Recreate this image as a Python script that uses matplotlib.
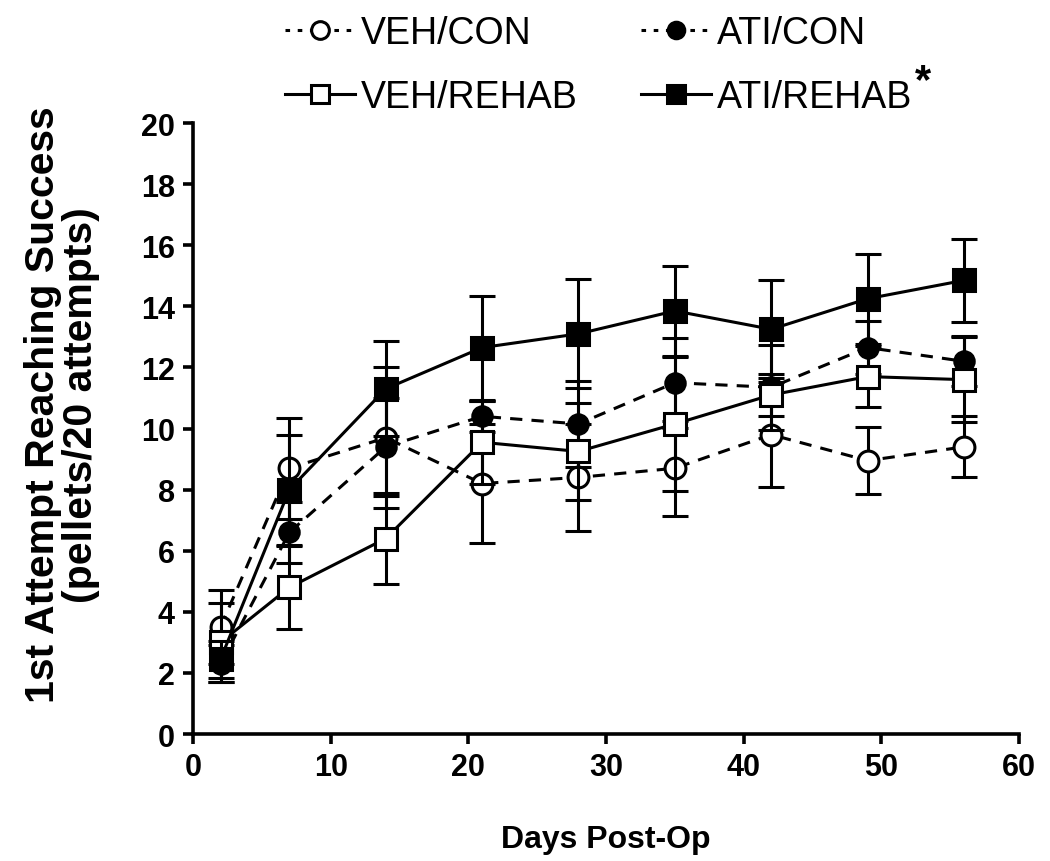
import matplotlib
matplotlib.use("Agg")
import matplotlib.pyplot as plt
from matplotlib.lines import Line2D

days = [2, 7, 14, 21, 28, 35, 42, 49, 56]

veh_con = [3.5, 8.7, 9.7, 8.2, 8.4, 8.7, 9.8, 8.95, 9.4]
veh_con_err = [1.2, 1.65, 2.3, 1.95, 1.75, 1.55, 1.72, 1.1, 1.0]

ati_con = [2.3, 6.6, 9.4, 10.4, 10.15, 11.5, 11.35, 12.65, 12.2]
ati_con_err = [0.6, 1.0, 1.6, 0.5, 1.4, 1.47, 1.4, 0.86, 0.82]

veh_rehab = [3.0, 4.8, 6.4, 9.55, 9.25, 10.15, 11.1, 11.7, 11.6]
veh_rehab_err = [1.3, 1.35, 1.5, 1.35, 1.6, 2.2, 0.7, 1.0, 1.4]

ati_rehab = [2.45, 8.0, 11.3, 12.65, 13.1, 13.85, 13.25, 14.25, 14.85]
ati_rehab_err = [0.6, 1.8, 1.55, 1.7, 1.78, 1.48, 1.6, 1.47, 1.35]

labels = ["VEH/CON", "ATI/CON", "VEH/REHAB", "ATI/REHAB"]
x_ticks = [0, 10, 20, 30, 40, 50, 60]
y_ticks = [0, 2, 4, 6, 8, 10, 12, 14, 16, 18, 20]

plt.rcParams['font.family'] = ['Liberation Sans', 'DejaVu Sans']

fig = plt.figure(figsize=(10.5, 8.62), dpi=100)
ax = fig.add_axes([0.1838, 0.1473, 0.7867, 0.7088])

lw = 2.2
series = [
    (veh_con, veh_con_err, 'o', 'white', (0, (4, 3)), 15),
    (ati_con, ati_con_err, 'o', 'black', (0, (4, 3)), 14),
    (veh_rehab, veh_rehab_err, 's', 'white', '-', 16),
    (ati_rehab, ati_rehab_err, 's', 'black', '-', 16),
]
handles = []
for i, (vals, errs, mk, fc, ls, ms) in enumerate(series):
    ax.errorbar(days, vals, yerr=errs, fmt='none', ecolor='black',
                elinewidth=lw, capsize=9.5, capthick=lw, zorder=2 + i)
    ax.plot(days, vals, linestyle=ls, color='black', linewidth=lw,
            marker=mk, markersize=ms, markerfacecolor=fc,
            markeredgecolor='black', markeredgewidth=2.2, zorder=3 + i)
    hls = (0, (1.5, 2.5)) if ls != '-' else '-'
    handles.append(Line2D([0], [0], linestyle=hls, color='black', linewidth=lw,
                          marker=mk, markersize=ms * 0.85, markerfacecolor=fc,
                          markeredgecolor='black', markeredgewidth=2.2))

ax.set_xlim(0, 60)
ax.set_ylim(0, 20)
ax.set_xticks(x_ticks)
ax.set_yticks(y_ticks)
for s in ['top', 'right']:
    ax.spines[s].set_visible(False)
for s in ['left', 'bottom']:
    ax.spines[s].set_linewidth(2.6)
ax.tick_params(axis='both', direction='out', length=7, width=2.6,
               labelsize=22, pad=6)
for t in ax.get_xticklabels() + ax.get_yticklabels():
    t.set_fontweight('bold')

ax.set_xlabel("Days Post-Op", fontsize=23, fontweight='bold', labelpad=30)
ax.set_ylabel("1st Attempt Reaching Success\n(pellets/20 attempts)",
              fontsize=29.5, fontweight='bold', linespacing=1.0)
ax.yaxis.set_label_coords(-0.113, 0.54)

order = [0, 2, 1, 3]
leg = fig.legend([handles[i] for i in order], [labels[i] for i in order],
                 ncol=2, loc='upper left', bbox_to_anchor=(0.239, 1.021),
                 frameon=False, fontsize=27, handlelength=1.87,
                 handletextpad=0.15, columnspacing=1.7, labelspacing=0.75)

fig.canvas.draw()
renderer = fig.canvas.get_renderer()
bb = leg.get_texts()[3].get_window_extent(renderer)
fx, fy = fig.transFigure.inverted().transform((bb.x1 + 3, bb.y1 - 22))
fig.text(fx, fy, "*", fontsize=30, fontweight='bold', va='bottom', ha='left')

fig.savefig("out.png", dpi=100)
